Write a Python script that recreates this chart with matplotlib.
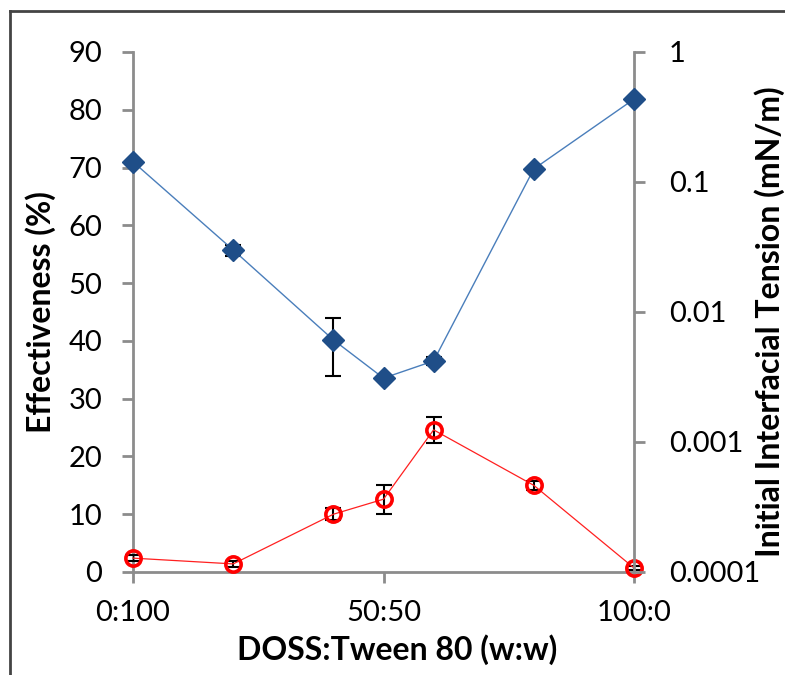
import matplotlib.pyplot as plt
import numpy as np

plt.rcParams['font.family'] = ['Lato', 'DejaVu Sans']

# DOSS fraction (w:w), 0 = 0:100, 100 = 100:0
ratio = [0, 20, 40, 50, 60, 80, 100]

# dispersant effectiveness (%), left axis
effectiveness = [2.4, 1.4, 10.0, 12.6, 24.6, 15.0, 0.7]
eff_err = [0.5, 0.5, 1.0, 2.5, 2.2, 0.8, 0.3]

# initial interfacial tension (mN/m), right log axis
ift = [0.143, 0.030, 0.0061, 0.0031, 0.0042, 0.126, 0.434]
ift_err = [0.0, 0.003, 0.0029, 0.0, 0.0003, 0.0, 0.0]

xticks = [0, 50, 100]
xticklabels = ['0:100', '50:50', '100:0']

gray = '#8c8c8c'

fig = plt.figure(figsize=(7.85, 6.75), dpi=100)
ax = fig.add_axes([133 / 785, 1 - 572 / 675, (634 - 133) / 785, (572 - 52) / 675])
ax2 = ax.twinx()

# red effectiveness series on the left axis
ax.errorbar(ratio, effectiveness, yerr=eff_err, fmt='none', ecolor='black',
            elinewidth=1.5, capsize=6, capthick=1.5, zorder=3)
ax.plot(ratio, effectiveness, color='#ff2020', lw=0.9, marker='o', ms=11,
        mfc='none', mec='#ff0000', mew=2.6, zorder=4)

# blue IFT series on the right axis
ax2.errorbar(ratio, ift, yerr=ift_err, fmt='none', ecolor='black',
             elinewidth=1.5, capsize=6, capthick=1.5, zorder=3)
ax2.plot(ratio, ift, color='#4a7ebb', lw=1.0, marker='D', ms=11,
         mfc='#1f4e88', mec='#1f4e88', zorder=4)

ax.set_xlim(0, 100)
ax.set_ylim(0, 90)
ax.set_yticks(np.arange(0, 91, 10))
ax.set_xticks(xticks)
ax.set_xticklabels(xticklabels)

ax2.set_yscale('log')
ax2.set_ylim(0.0001, 1)
ax2.set_yticks([0.0001, 0.001, 0.01, 0.1, 1])
ax2.set_yticklabels(['0.0001', '0.001', '0.01', '0.1', '1'])
ax2.yaxis.set_minor_locator(plt.NullLocator())

for a in (ax, ax2):
    for s in a.spines.values():
        s.set_visible(False)
    a.tick_params(labelsize=21, color=gray, width=2, length=8)

ax.spines['left'].set_visible(True)
ax.spines['bottom'].set_visible(True)
ax2.spines['right'].set_visible(True)
for s in (ax.spines['left'], ax.spines['bottom'], ax2.spines['right']):
    s.set_color(gray)
    s.set_linewidth(2)

ax.tick_params(axis='y', pad=14)
ax.tick_params(axis='x', pad=12)
ax2.tick_params(axis='y', pad=17)

for line in ax.lines + ax2.lines:
    line.set_clip_on(False)

ax.set_ylabel('Effectiveness (%)', fontsize=23, fontweight='bold')
ax.yaxis.set_label_coords(-0.154, 0.5)
ax.set_xlabel('DOSS:Tween 80 (w:w)', fontsize=23, fontweight='bold')
ax.xaxis.set_label_coords(0.528, -0.12)
fig.text(770 / 785, 1 - 322 / 675, 'Initial Interfacial Tension (mN/m)',
         rotation=90, ha='center', va='center', fontsize=23, fontweight='bold')

# border of the original figure frame
fig.add_artist(plt.Line2D([10 / 785, 10 / 785], [0, 1 - 11 / 675],
                          transform=fig.transFigure, color='#444444', lw=2))
fig.add_artist(plt.Line2D([10 / 785, 1], [1 - 11 / 675, 1 - 11 / 675],
                          transform=fig.transFigure, color='#444444', lw=2))

fig.savefig('out.png', dpi=100)
